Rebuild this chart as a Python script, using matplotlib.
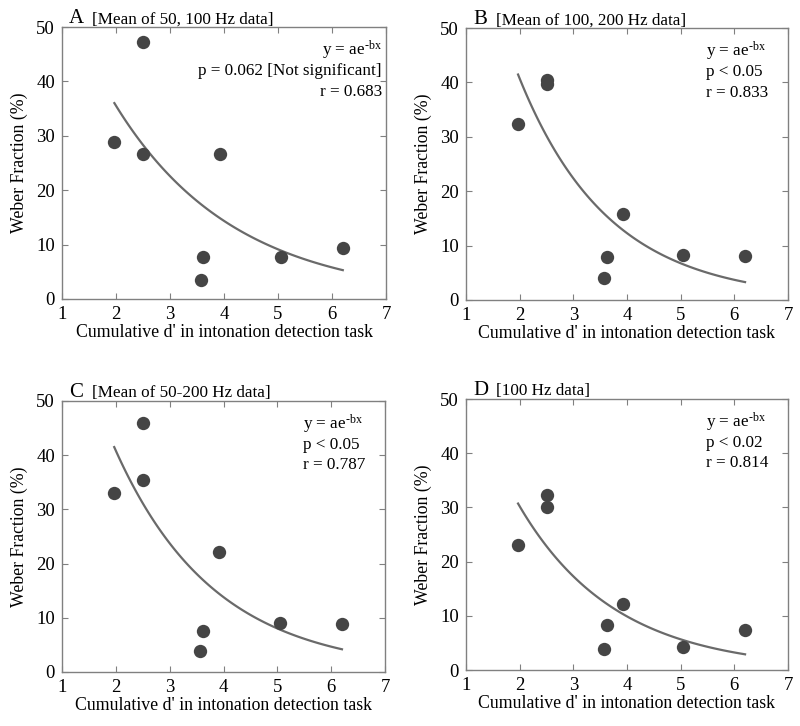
import numpy as np
import matplotlib
matplotlib.use("Agg")
import matplotlib.pyplot as plt

plt.rcParams['font.family'] = ['Liberation Serif', 'DejaVu Serif']
plt.rcParams['mathtext.fontset'] = 'custom'
plt.rcParams['mathtext.rm'] = 'Liberation Serif'
plt.rcParams['mathtext.it'] = 'Liberation Serif'
plt.rcParams['mathtext.default'] = 'regular'

# cumulative d' (same subjects in every panel)
dprime = [1.97, 2.5, 2.5, 3.57, 3.62, 3.92, 5.05, 6.2]

wf_a = [28.9, 47.2, 26.6, 3.5, 7.7, 26.6, 7.8, 9.3]
wf_b = [32.4, 40.5, 39.8, 4.1, 7.9, 15.9, 8.2, 8.0]
wf_c = [33.0, 46.0, 35.5, 3.9, 7.6, 22.1, 9.0, 8.8]
wf_d = [23.0, 32.3, 30.1, 3.8, 8.3, 12.2, 4.3, 7.3]

# exponential fit parameters y = a*exp(-b*x)
fit_a = [87.9, 134.9, 120.7, 92.2]
fit_b = [0.453, 0.599, 0.542, 0.558]

letters = ["A", "B", "C", "D"]
titles = ["[Mean of 50, 100 Hz data]", "[Mean of 100, 200 Hz data]",
          "[Mean of 50-200 Hz data]", "[100 Hz data]"]
pvals = ["p = 0.062 [Not significant]", "p < 0.05", "p < 0.05", "p < 0.02"]
rvals = ["r = 0.683", "r = 0.833", "r = 0.787", "r = 0.814"]

positions = [[0.0775, 0.5882, 0.405, 0.3746],
             [0.5825, 0.5868, 0.4025, 0.3746],
             [0.0775, 0.0744, 0.4038, 0.3733],
             [0.5825, 0.0771, 0.4025, 0.3733]]

fig = plt.figure(figsize=(8, 7.26), dpi=100)
edge = '#808080'

for i, wf in enumerate([wf_a, wf_b, wf_c, wf_d]):
    ax = fig.add_axes(positions[i])
    xs = np.linspace(min(dprime), max(dprime), 100)
    ax.plot(xs, fit_a[i] * np.exp(-fit_b[i] * xs), color='#6a6a6a', lw=1.6, zorder=2)
    ax.plot(dprime, wf, 'o', color='#454545', ms=9.6, mec='none', zorder=3)

    ax.set_xlim(1, 7)
    ax.set_ylim(0, 50)
    ax.set_xticks(range(1, 8))
    ax.set_yticks(range(0, 51, 10))
    ax.tick_params(direction='in', length=4, color=edge, labelsize=13.5,
                   right=True, top=True, pad=5)
    for s in ax.spines.values():
        s.set_color(edge)
        s.set_linewidth(1)
    ax.set_xlabel("Cumulative d' in intonation detection task", fontsize=12.8, labelpad=1)
    ax.set_ylabel("Weber Fraction (%)", fontsize=12.8, labelpad=6)

    ax.text(0.022, 1.014, letters[i], transform=ax.transAxes, fontsize=15,
            ha='left', va='baseline')
    ax.text(0.093, 1.014, titles[i], transform=ax.transAxes, fontsize=12.3,
            ha='left', va='baseline')

    lines = [r"y = ae$^{\text{-bx}}$", pvals[i], rvals[i]]
    if i == 0:
        tx, ha = 6.92, 'right'
    else:
        tx, ha = 5.47, 'left'
    for k, t in enumerate(lines):
        ax.text(tx, [44.8, 41.2, 37.4][k], t, fontsize=12.3, ha=ha, va='baseline')

fig.savefig("out.png", dpi=100)
